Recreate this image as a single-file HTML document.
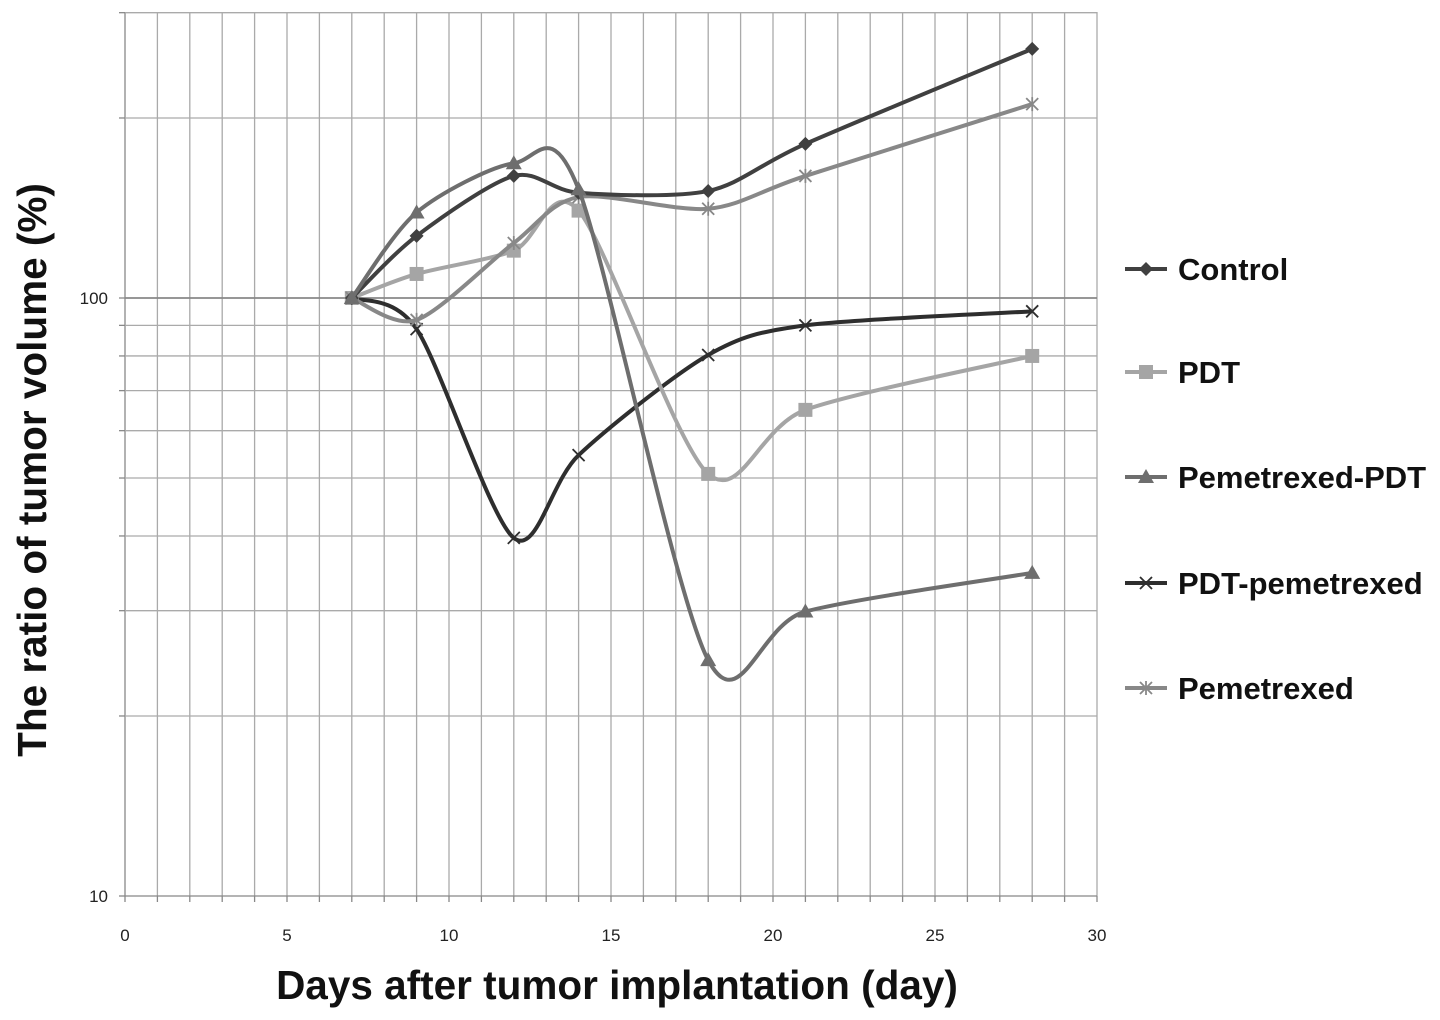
<!DOCTYPE html>
<html><head><meta charset="utf-8"><style>
body{margin:0;background:#fff;}
svg{display:block;font-family:"Liberation Sans",Arial,sans-serif;}
</style></head><body>
<svg id="chart" width="1440" height="1020"></svg>
<script>
const days=[7,9,12,14,18,21,28];
const control=[100,127,160,150,151,181,261];
const pdt=[100,109.7,120,140,50.8,65,80];
const pemPdt=[100,139,168,152,24.8,29.9,34.7];
const pdtPem=[100,88.7,39.7,54.6,80.3,90,95];
const pemetrexed=[100,91.9,123.6,147.5,141,160,211];
const xTicks=[0,5,10,15,20,25,30];
const yTickLabels=["10","100"];
const seriesNames=["Control","PDT","Pemetrexed-PDT","PDT-pemetrexed","Pemetrexed"];

const NS="http://www.w3.org/2000/svg";
const svg=document.getElementById('chart');
const X0=125,X1=1097,Y10=896,YDEC=598,YTOP=12;
const xs=d=>X0+(X1-X0)*d/30;
const ys=v=>Y10-YDEC*(Math.log10(v)-1);
function mk(tag,attrs,parent){const e=document.createElementNS(NS,tag);for(const k in attrs)e.setAttribute(k,attrs[k]);(parent||svg).appendChild(e);return e;}

const grid=mk('g',{});


for(let d=0;d<=30;d++){mk('line',{x1:xs(d),x2:xs(d),y1:YTOP,y2:Y10,stroke:d===0?'#888':'#aaa','stroke-width':1.3},grid);}
const yGrid=[10,20,30,40,50,60,70,80,90,100,200,300];
yGrid.forEach(v=>{mk('line',{x1:X0,x2:X1,y1:ys(v),y2:ys(v),stroke:(v===10||v===100)?'#888':'#aaa','stroke-width':v===100?1.8:1.3},grid);});
yGrid.forEach(v=>mk('line',{x1:X0-6,x2:X0,y1:ys(v),y2:ys(v),stroke:'#888','stroke-width':1.3},grid));
for(let d=0;d<=30;d++)mk('line',{x1:xs(d),x2:xs(d),y1:Y10,y2:Y10+6,stroke:'#888','stroke-width':1.3},grid);

xTicks.forEach(t=>{const e=mk('text',{x:xs(t),y:941,'font-size':17,'text-anchor':'middle',fill:'#222'});e.textContent=t;

});
yTickLabels.forEach(t=>{const e=mk('text',{x:108,y:ys(+t)+6,'font-size':17,'text-anchor':'end',fill:'#222'});e.textContent=t;

});

let t=mk('text',{x:617,y:999,'font-size':40.5,'font-weight':'bold','text-anchor':'middle',fill:'#111'});t.textContent='Days after tumor implantation (day)';


t=mk('text',{x:0,y:0,'font-size':40.5,'font-weight':'bold','text-anchor':'middle',fill:'#111',transform:'translate(46,470) rotate(-90)'});t.textContent='The ratio of tumor volume (%)';



function smooth(pts){let d=`M${pts[0][0]},${pts[0][1]}`;const k=1/7;
for(let i=0;i<pts.length-1;i++){const p0=pts[i-1]||pts[i],p1=pts[i],p2=pts[i+1],p3=pts[i+2]||p2;
const c1=[p1[0]+(p2[0]-p0[0])*k,p1[1]+(p2[1]-p0[1])*k],c2=[p2[0]-(p3[0]-p1[0])*k,p2[1]-(p3[1]-p1[1])*k];
d+=` C${c1[0]},${c1[1]} ${c2[0]},${c2[1]} ${p2[0]},${p2[1]}`;}return d;}
function marker(type,x,y,color,g){
 if(type==='diamond')mk('path',{d:`M${x},${y-7} L${x+7},${y} L${x},${y+7} L${x-7},${y}Z`,fill:color},g);
 else if(type==='square')mk('rect',{x:x-7,y:y-7,width:14,height:14,fill:color},g);
 else if(type==='tri')mk('path',{d:`M${x},${y-8} L${x+8},${y+6} L${x-8},${y+6}Z`,fill:color},g);
 else if(type==='x'){mk('path',{d:`M${x-6},${y-6}L${x+6},${y+6}M${x+6},${y-6}L${x-6},${y+6}`,stroke:color,'stroke-width':1.8},g);}
 else {mk('path',{d:`M${x-6},${y-6}L${x+6},${y+6}M${x+6},${y-6}L${x-6},${y+6}M${x},${y-7}L${x},${y+7}`,stroke:color,'stroke-width':1.8},g);}
}
const series=[[control,'#404040','diamond'],[pdt,'#a5a5a5','square'],[pemPdt,'#6e6e6e','tri'],[pdtPem,'#2e2e2e','x'],[pemetrexed,'#888','star']];
const order=[3,1,4,0,2];
order.forEach(i=>{const [vals,col,m]=series[i];const g=mk('g',{});


const pts=days.map((d,j)=>[xs(d),ys(vals[j])]);
mk('path',{d:smooth(pts),fill:'none',stroke:col,'stroke-width':4},g);
pts.forEach(p=>marker(m,p[0],p[1],col,g));});

const ly=[269,372,477,583,688];
seriesNames.forEach((n,i)=>{const [,col,m]=series[i];const g=mk('g',{});


mk('line',{x1:1125,x2:1167,y1:ly[i],y2:ly[i],stroke:col,'stroke-width':4},g);
marker(m,1146,ly[i],col,g);
const tx=mk('text',{x:1178,y:ly[i]+11,'font-size':31,'font-weight':'bold',fill:'#111'},g);tx.textContent=n;});
</script>
</body></html>
